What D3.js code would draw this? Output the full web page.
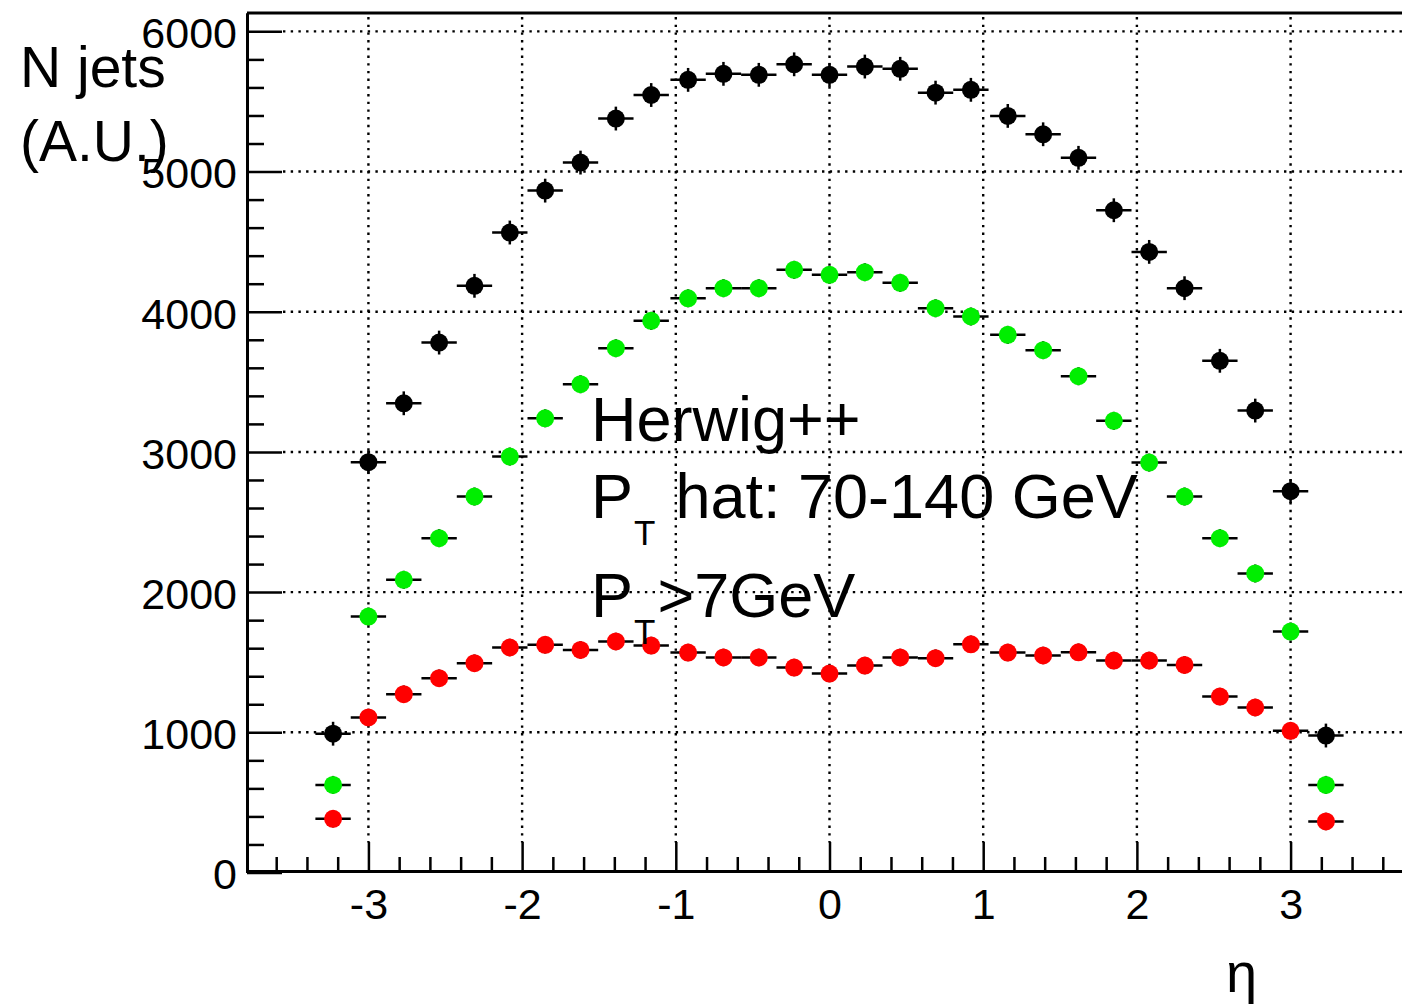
<!DOCTYPE html>
<html>
<head>
<meta charset="utf-8">
<script src="https://cdn.jsdelivr.net/npm/d3@7"></script>
<style>
  body { margin: 0; background: #fff; }
  svg { display: block; font-family: "Liberation Sans", Arial, sans-serif; }
</style>
</head>
<body>
<svg id="chart" width="1402" height="1004"></svg>
<script>
// bin centres in eta (29 bins)
const etaCenters = [-3.23, -3.00, -2.77, -2.54, -2.31, -2.08, -1.85, -1.62, -1.39, -1.16,
  -0.92, -0.69, -0.46, -0.23, 0.00, 0.23, 0.46, 0.69, 0.92, 1.16,
  1.39, 1.62, 1.85, 2.08, 2.31, 2.54, 2.77, 3.00, 3.23];
const binHalf = 0.115;

const blackCounts = [990, 2927, 3347, 3780, 4185, 4565, 4864, 5064, 5378, 5546,
  5654, 5697, 5690, 5765, 5690, 5749, 5733, 5563, 5583, 5397,
  5266, 5098, 4724, 4427, 4168, 3650, 3295, 2720, 977];
const greenCounts = [625, 1826, 2088, 2385, 2682, 2967, 3240, 3483, 3740, 3935,
  4096, 4168, 4168, 4299, 4263, 4282, 4206, 4025, 3966, 3835,
  3726, 3540, 3222, 2924, 2682, 2385, 2133, 1719, 625];
const redCounts = [383, 1106, 1272, 1386, 1493, 1605, 1624, 1588, 1648, 1619,
  1569, 1534, 1534, 1462, 1419, 1476, 1534, 1529, 1628, 1569,
  1548, 1571, 1512, 1512, 1481, 1255, 1177, 1011, 364];

const seriesErrors = [85, 64, 62];
const seriesColors = ['#000000', '#00ee00', '#ff0000'];

const yMajorTicks = [0, 1000, 2000, 3000, 4000, 5000, 6000];
const xMajorTicks = [-3, -2, -1, 0, 1, 2, 3];

const svg = d3.select('#chart');
const padL = 247, padT = 13, padB = 872.5, padR = 1412;

const x = d3.scaleLinear().domain([-3.79, 3.79]).range([padL, padR]);
const y = d3.scaleLinear().domain([0, 6131]).range([padB, padT]);

// dotted grid
const grid = svg.append('g')
  .attr('stroke', '#000')
  .attr('stroke-width', 2.4)
  .attr('stroke-dasharray', '2.4 5.3');
grid.selectAll('line.h')
  .data(yMajorTicks.filter(d => d > 0))
  .enter().append('line')
  .attr('x1', padL + 36).attr('x2', padR)
  .attr('y1', d => y(d)).attr('y2', d => y(d));
grid.selectAll('line.v')
  .data(xMajorTicks)
  .enter().append('line')
  .attr('x1', d => x(d)).attr('x2', d => x(d))
  .attr('y1', padT + 4).attr('y2', padB - 30);

// axes
const plain = d => String(d);
const yAxis = d3.axisLeft(y)
  .tickValues(yMajorTicks)
  .tickFormat(plain)
  .tickSize(-35)
  .tickSizeOuter(0)
  .tickPadding(10);
const gy = svg.append('g').attr('transform', `translate(${padL},0)`).call(yAxis);

const yMinor = d3.axisLeft(y)
  .tickValues(d3.range(200, 6100, 200).filter(v => v % 1000 !== 0))
  .tickFormat('')
  .tickSize(-17)
  .tickSizeOuter(0);
svg.append('g').attr('transform', `translate(${padL},0)`).call(yMinor);

const xAxis = d3.axisBottom(x)
  .tickValues(xMajorTicks)
  .tickFormat(plain)
  .tickSize(-29)
  .tickSizeOuter(0)
  .tickPadding(17);
const gx = svg.append('g').attr('transform', `translate(0,${padB - 1.5})`).call(xAxis);

const xMinor = d3.axisBottom(x)
  .tickValues(d3.range(-3.6, 3.81, 0.2).filter(v => Math.abs(v - Math.round(v)) > 0.05))
  .tickFormat('')
  .tickSize(-14)
  .tickSizeOuter(0);
svg.append('g').attr('transform', `translate(0,${padB - 1.5})`).call(xMinor);

svg.selectAll('.domain').attr('stroke-width', 3);
svg.selectAll('.tick line').attr('stroke-width', 2.5);
svg.selectAll('.tick text')
  .attr('font-family', '"Liberation Sans", Arial, sans-serif')
  .attr('font-size', 43)
  .attr('fill', '#000');
gy.selectAll('.tick text').attr('dy', '0.38em');

// top frame line
svg.append('line')
  .attr('x1', padL).attr('x2', padR)
  .attr('y1', padT).attr('y2', padT)
  .attr('stroke', '#000').attr('stroke-width', 3);

// data points with bin-width and error bars
[blackCounts, greenCounts, redCounts].forEach((counts, s) => {
  const pts = etaCenters.map((eta, i) => ({eta, n: counts[i]}));
  const g = svg.append('g');
  g.selectAll('line.bw')
    .data(pts).enter().append('line')
    .attr('x1', d => x(d.eta - binHalf)).attr('x2', d => x(d.eta + binHalf))
    .attr('y1', d => y(d.n)).attr('y2', d => y(d.n))
    .attr('stroke', '#000').attr('stroke-width', 2.5);
  g.selectAll('line.err')
    .data(pts).enter().append('line')
    .attr('x1', d => x(d.eta)).attr('x2', d => x(d.eta))
    .attr('y1', d => y(d.n - seriesErrors[s])).attr('y2', d => y(d.n + seriesErrors[s]))
    .attr('stroke', '#000').attr('stroke-width', 2.5);
  g.selectAll('circle')
    .data(pts).enter().append('circle')
    .attr('cx', d => x(d.eta)).attr('cy', d => y(d.n))
    .attr('r', 9)
    .attr('fill', seriesColors[s]);
});

// axis titles
const yTitle = svg.append('text')
  .attr('font-size', 57).attr('fill', '#000');
yTitle.append('tspan').attr('x', 20).attr('y', 87).text('N jets');
yTitle.append('tspan').attr('x', 20).attr('y', 161).text('(A.U.)');

svg.append('text')
  .attr('x', 1226).attr('y', 992)
  .attr('font-size', 56)
  .text('η');

// annotation
const note = svg.append('g').attr('font-size', 63).attr('fill', '#000');
note.append('text').attr('x', 591).attr('y', 441).text('Herwig++');

const l2 = note.append('text').attr('x', 591).attr('y', 518);
l2.append('tspan').text('P');
l2.append('tspan').attr('font-size', 35).attr('dy', 27).attr('dx', 1).text('T');
l2.append('tspan').attr('dy', -27).attr('dx', 20).text('hat: 70-140 GeV');

const l3 = note.append('text').attr('x', 591).attr('y', 617);
l3.append('tspan').text('P');
l3.append('tspan').attr('font-size', 35).attr('dy', 27).attr('dx', 1).text('T');
l3.append('tspan').attr('dy', -27).attr('dx', 2).text('>7GeV');
</script>
</body>
</html>
